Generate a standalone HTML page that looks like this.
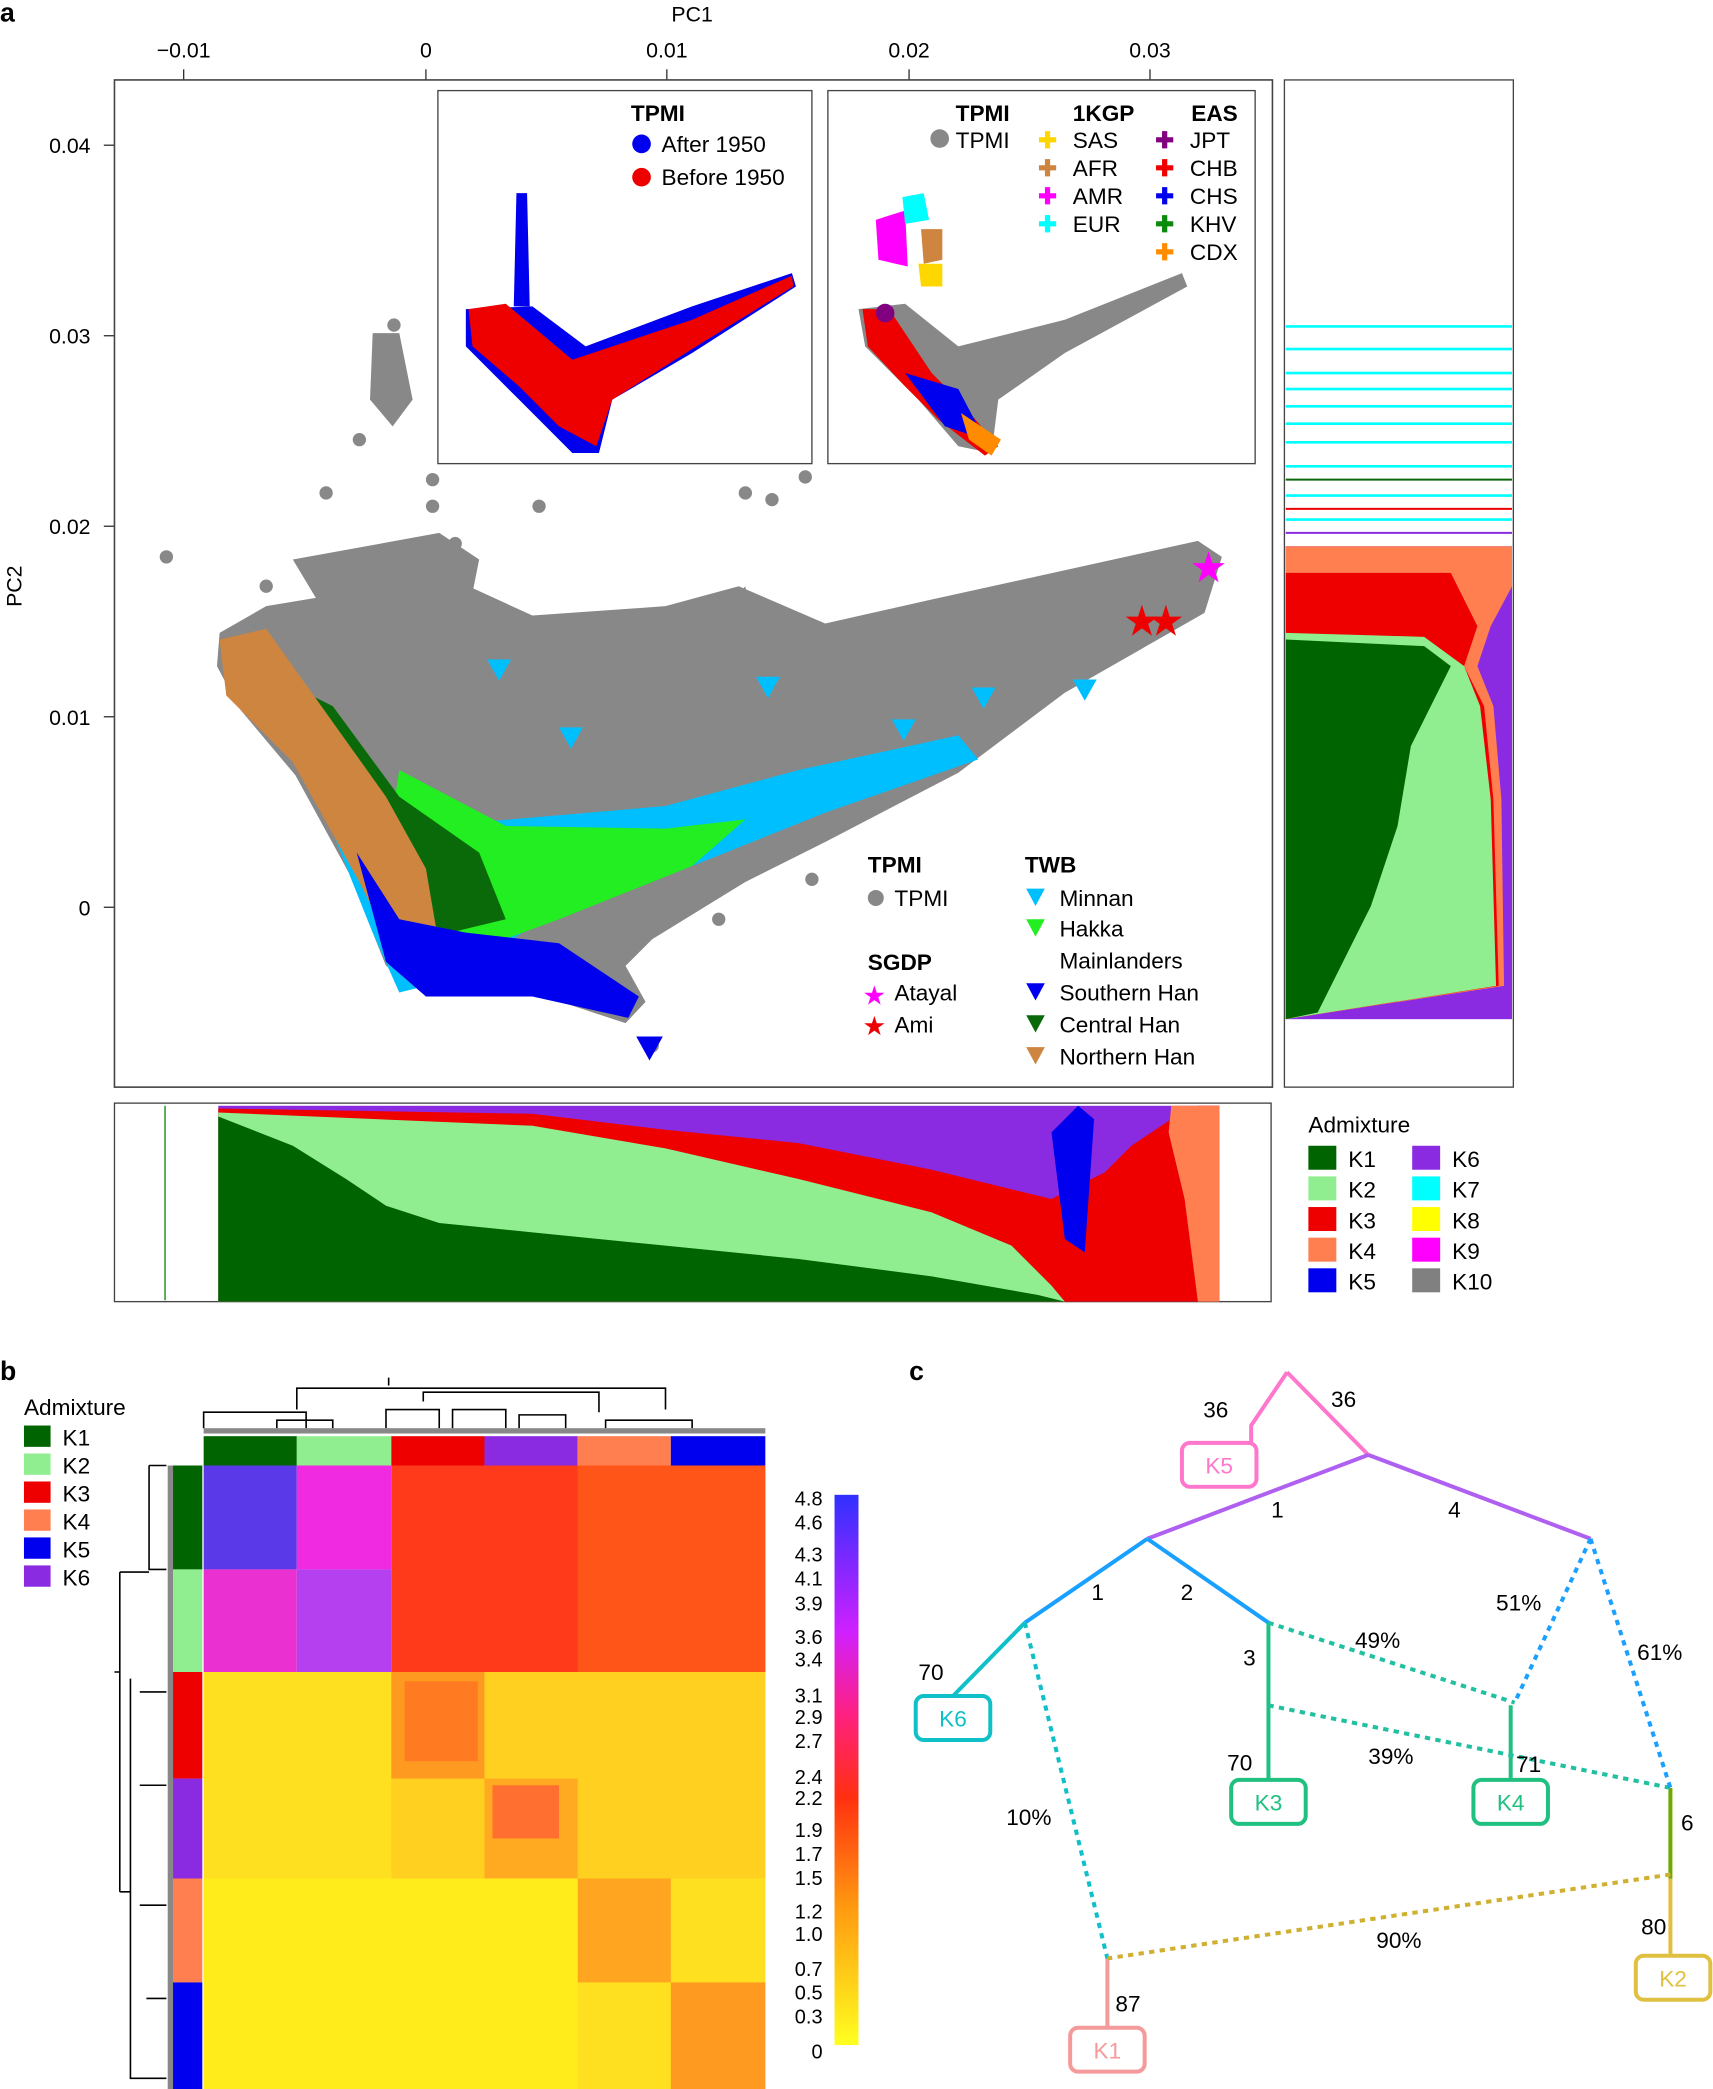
<!DOCTYPE html>
<html><head><meta charset="utf-8"><style>html,body{margin:0;padding:0;background:#fff}svg{display:block}text{font-family:"Liberation Sans",Arial,sans-serif}</style></head><body>
<svg width="1713" height="2089" viewBox="0 0 1287 1568" preserveAspectRatio="none" xmlns="http://www.w3.org/2000/svg">
<!-- Panel a -->
<text x="0" y="16" font-size="20" font-weight="bold">a</text>
<text x="520" y="16" font-size="16" text-anchor="middle">PC1</text>
<g font-size="16" text-anchor="middle">
<text x="138" y="43">−0.01</text><text x="320" y="43">0</text><text x="501" y="43">0.01</text><text x="683" y="43">0.02</text><text x="864" y="43">0.03</text>
</g>
<g stroke="#333"><line x1="138" y1="52" x2="138" y2="60"/><line x1="320" y1="52" x2="320" y2="60"/><line x1="501" y1="52" x2="501" y2="60"/><line x1="683" y1="52" x2="683" y2="60"/><line x1="864" y1="52" x2="864" y2="60"/>
<line x1="78" y1="109" x2="86" y2="109"/><line x1="78" y1="252" x2="86" y2="252"/><line x1="78" y1="395" x2="86" y2="395"/><line x1="78" y1="538" x2="86" y2="538"/><line x1="78" y1="681" x2="86" y2="681"/></g>
<g font-size="16" text-anchor="end"><text x="68" y="115">0.04</text><text x="68" y="258">0.03</text><text x="68" y="401">0.02</text><text x="68" y="544">0.01</text><text x="68" y="687">0</text></g>
<text x="16" y="440" font-size="16" transform="rotate(-90 16 440)" text-anchor="middle">PC2</text>
<rect x="86" y="60" width="870" height="756" fill="none" stroke="#444" stroke-width="1.2"/>
<!-- grey cloud -->
<g fill="#888">
<path d="M165,475 L200,455 L260,445 L330,430 L400,462 L500,455 L555,440 L620,468 L700,450 L800,428 L900,406 L918,418 L905,460 L800,520 L720,580 L620,632 L560,662 L490,705 L470,725 L485,752 L470,768 L400,745 L330,745 L290,725 L262,655 L222,582 L180,532 L163,500 Z"/>
<path d="M280,250 L300,250 L310,300 L295,320 L278,300 Z"/>
<path d="M220,420 L330,400 L360,420 L350,470 L250,470 Z"/>
<path d="M540,460 L560,440 L565,480 Z"/>
<circle cx="125" cy="418" r="5"/><circle cx="245" cy="370" r="5"/><circle cx="270" cy="330" r="5"/><circle cx="325" cy="360" r="5"/><circle cx="325" cy="380" r="5"/><circle cx="405" cy="380" r="5"/><circle cx="560" cy="370" r="5"/><circle cx="580" cy="375" r="5"/><circle cx="605" cy="358" r="5"/><circle cx="296" cy="244" r="5"/><circle cx="342" cy="408" r="5"/><circle cx="200" cy="440" r="5"/><circle cx="610" cy="660" r="5"/><circle cx="540" cy="690" r="5"/><circle cx="490" cy="785" r="5"/>
</g>
<!-- colored regions -->
<path d="M250,620 L350,618 L500,605 L600,578 L720,552 L735,570 L620,610 L520,650 L400,695 L340,735 L300,745 L280,700 L240,600 Z" fill="#00bfff"/>
<path d="M300,578 L380,620 L500,622 L560,615 L520,650 L420,690 L360,712 L330,690 L290,640 Z" fill="#22ee22"/>
<path d="M210,510 L250,530 L300,598 L360,640 L380,690 L330,702 L280,652 L230,590 Z" fill="#0a6a0a"/>
<path d="M165,480 L200,472 L240,528 L290,598 L320,652 L332,722 L300,722 L270,662 L220,572 L170,522 Z" fill="#cd853f"/>
<path d="M268,640 L300,690 L350,700 L420,708 L480,748 L472,764 L400,748 L320,748 L290,722 Z" fill="#0000ee"/>
<g fill="#00bfff"><path d="M366,495 L384,495 L375,511Z"/><path d="M568,508 L586,508 L577,524Z"/><path d="M806,510 L824,510 L815,526Z"/><path d="M420,546 L438,546 L429,562Z"/><path d="M730,516 L748,516 L739,532Z"/><path d="M670,540 L688,540 L679,556Z"/></g>
<path d="M478,778 L498,778 L488,796Z" fill="#0000ee"/>
<g font-size="32" text-anchor="middle"><text x="908" y="437" fill="#ff00ff">★</text><text x="858" y="477" fill="#ee0000">★</text><text x="876" y="477" fill="#ee0000">★</text></g>
<!-- legend in main -->
<g font-size="17"><text x="652" y="655" font-weight="bold">TPMI</text><circle cx="658" cy="674" r="6" fill="#888"/><text x="672" y="680">TPMI</text>
<text x="652" y="728" font-weight="bold">SGDP</text><text x="648" y="754" fill="#ff00ff" font-size="20">★</text><text x="672" y="751">Atayal</text><text x="648" y="777" fill="#ee0000" font-size="20">★</text><text x="672" y="775">Ami</text>
<text x="770" y="655" font-weight="bold">TWB</text>
<path d="M771,667 L785,667 L778,680Z" fill="#00bfff"/><text x="796" y="680">Minnan</text>
<path d="M771,690 L785,690 L778,703Z" fill="#22ee22"/><text x="796" y="703">Hakka</text>
<text x="796" y="727">Mainlanders</text>
<path d="M771,738 L785,738 L778,751Z" fill="#0000ee"/><text x="796" y="751">Southern Han</text>
<path d="M771,762 L785,762 L778,775Z" fill="#0a6a0a"/><text x="796" y="775">Central Han</text>
<path d="M771,786 L785,786 L778,799Z" fill="#cd853f"/><text x="796" y="799">Northern Han</text></g>
<!-- inset 1 -->
<rect x="329" y="68" width="281" height="280" fill="#fff" stroke="#444"/>
<path d="M350,232 L400,230 L440,260 L520,230 L595,205 L598,215 L520,265 L460,300 L450,340 L430,340 L390,300 L350,260 Z" fill="#0000ee"/>
<path d="M388,145 L396,145 L398,230 L386,230 Z" fill="#0000ee"/>
<path d="M352,232 L380,228 L430,270 L520,240 L595,207 L596,215 L520,262 L460,300 L448,335 L420,320 L390,290 L355,260 Z" fill="#ee0000"/>
<g font-size="17"><text x="474" y="91" font-weight="bold">TPMI</text><circle cx="482" cy="108" r="7" fill="#0000ee"/><text x="497" y="114">After 1950</text><circle cx="482" cy="133" r="7" fill="#ee0000"/><text x="497" y="139">Before 1950</text></g>
<!-- inset 2 -->
<rect x="622" y="68" width="321" height="280" fill="#fff" stroke="#444"/>
<path d="M645,232 L680,228 L720,260 L800,240 L888,205 L892,215 L800,265 L750,300 L745,340 L720,335 L690,300 L650,260 Z" fill="#888"/>
<path d="M658,165 L680,158 L682,200 L660,195 Z" fill="#ff00ff"/><path d="M678,148 L694,145 L698,165 L680,168 Z" fill="#00ffff"/><path d="M692,172 L708,172 L708,195 L694,198Z" fill="#cd853f"/><path d="M690,198 L708,198 L708,215 L692,215 Z" fill="#ffd700"/>
<path d="M648,232 L668,232 L700,280 L720,300 L750,335 L740,342 L705,315 L680,290 L652,260 Z" fill="#ee0000"/>
<path d="M680,280 L720,292 L740,330 L710,320 Z" fill="#0000ee"/><path d="M722,310 L752,330 L745,342 L728,330Z" fill="#ff8c00"/><circle cx="665" cy="235" r="7" fill="#800080"/>
<g font-size="17"><text x="718" y="91" font-weight="bold">TPMI</text><circle cx="706" cy="104" r="7" fill="#888"/><text x="718" y="111">TPMI</text>
<text x="806" y="91" font-weight="bold">1KGP</text>
<text x="780" y="111" fill="#ffd700" font-weight="bold">✚</text><text x="806" y="111">SAS</text>
<text x="780" y="132" fill="#cd853f" font-weight="bold">✚</text><text x="806" y="132">AFR</text>
<text x="780" y="153" fill="#ff00ff" font-weight="bold">✚</text><text x="806" y="153">AMR</text>
<text x="780" y="174" fill="#00ffff" font-weight="bold">✚</text><text x="806" y="174">EUR</text>
<text x="895" y="91" font-weight="bold">EAS</text>
<text x="868" y="111" fill="#800080" font-weight="bold">✚</text><text x="894" y="111">JPT</text>
<text x="868" y="132" fill="#ee0000" font-weight="bold">✚</text><text x="894" y="132">CHB</text>
<text x="868" y="153" fill="#0000ee" font-weight="bold">✚</text><text x="894" y="153">CHS</text>
<text x="868" y="174" fill="#0a8a0a" font-weight="bold">✚</text><text x="894" y="174">KHV</text>
<text x="868" y="195" fill="#ff8c00" font-weight="bold">✚</text><text x="894" y="195">CDX</text></g>
<!-- right admixture bar -->
<rect x="965" y="60" width="172" height="756" fill="#fff" stroke="#444"/>
<g stroke="#00ffff" stroke-width="2"><line x1="966" y1="245" x2="1136" y2="245"/><line x1="966" y1="262" x2="1136" y2="262"/><line x1="966" y1="280" x2="1136" y2="280"/><line x1="966" y1="292" x2="1136" y2="292"/><line x1="966" y1="305" x2="1136" y2="305"/><line x1="966" y1="318" x2="1136" y2="318"/><line x1="966" y1="332" x2="1136" y2="332"/><line x1="966" y1="350" x2="1136" y2="350"/><line x1="966" y1="372" x2="1136" y2="372"/><line x1="966" y1="390" x2="1136" y2="390"/></g>
<g stroke-width="1.5"><line x1="966" y1="360" x2="1136" y2="360" stroke="#0a6a0a"/><line x1="966" y1="382" x2="1136" y2="382" stroke="#ee0000"/><line x1="966" y1="400" x2="1136" y2="400" stroke="#8a2be2"/></g>
<rect x="966" y="410" width="170" height="355" fill="#8a2be2"/>
<path d="M966,410 L1136,410 L1136,440 L1120,470 L1110,500 L1122,530 L1128,600 L1130,740 L966,765 Z" fill="#ff7f50"/>
<path d="M966,430 L1090,430 L1110,470 L1100,500 L1115,530 L1122,600 L1126,740 L966,765 Z" fill="#ee0000"/>
<path d="M966,475 L1070,478 L1100,500 L1112,530 L1120,600 L1124,740 L966,765 Z" fill="#90ee90"/>
<path d="M966,480 L1070,485 L1090,500 L1080,520 L1060,560 L1050,620 L1030,680 L1010,720 L990,760 L966,765 Z" fill="#006400"/>
<!-- bottom bar -->
<rect x="86" y="828" width="869" height="149" fill="#fff" stroke="#444"/>
<line x1="124" y1="830" x2="124" y2="976" stroke="#0a8a0a"/>
<rect x="164" y="830" width="752" height="147" fill="#8a2be2"/>
<path d="M164,832 L400,836 L500,848 L600,858 L700,878 L790,900 L830,880 L850,860 L880,840 L900,830 L916,830 L916,977 L164,977 Z" fill="#ee0000"/>
<path d="M880,830 L916,830 L916,977 L900,977 L890,900 L878,850 Z" fill="#ff7f50"/>
<path d="M790,850 L810,830 L822,840 L815,940 L800,930 Z" fill="#0000ee"/>
<path d="M164,835 L400,845 L500,862 L600,885 L700,910 L760,935 L790,965 L800,977 L164,977 Z" fill="#90ee90"/>
<path d="M164,838 L220,860 L260,885 L290,905 L330,918 L400,925 L500,935 L600,945 L700,958 L780,972 L800,977 L164,977 Z" fill="#006400"/>
<!-- legend admixture -->
<g font-size="17"><text x="983" y="850">Admixture</text>
<rect x="983" y="860" width="21" height="18" fill="#006400"/><text x="1013" y="876">K1</text>
<rect x="983" y="883" width="21" height="18" fill="#90ee90"/><text x="1013" y="899">K2</text>
<rect x="983" y="906" width="21" height="18" fill="#ee0000"/><text x="1013" y="922">K3</text>
<rect x="983" y="929" width="21" height="18" fill="#ff7f50"/><text x="1013" y="945">K4</text>
<rect x="983" y="952" width="21" height="18" fill="#0000ee"/><text x="1013" y="968">K5</text>
<rect x="1061" y="860" width="21" height="18" fill="#8a2be2"/><text x="1091" y="876">K6</text>
<rect x="1061" y="883" width="21" height="18" fill="#00ffff"/><text x="1091" y="899">K7</text>
<rect x="1061" y="906" width="21" height="18" fill="#ffff00"/><text x="1091" y="922">K8</text>
<rect x="1061" y="929" width="21" height="18" fill="#ff00ff"/><text x="1091" y="945">K9</text>
<rect x="1061" y="952" width="21" height="18" fill="#808080"/><text x="1091" y="968">K10</text></g>
<!-- Panel b -->
<text x="0" y="1036" font-size="20" font-weight="bold">b</text>
<g font-size="17"><text x="18" y="1062">Admixture</text>
<rect x="18" y="1070" width="20" height="16" fill="#006400"/><text x="47" y="1085">K1</text>
<rect x="18" y="1091" width="20" height="16" fill="#90ee90"/><text x="47" y="1106">K2</text>
<rect x="18" y="1112" width="20" height="16" fill="#ee0000"/><text x="47" y="1127">K3</text>
<rect x="18" y="1133" width="20" height="16" fill="#ff7f50"/><text x="47" y="1148">K4</text>
<rect x="18" y="1154" width="20" height="16" fill="#0000ee"/><text x="47" y="1169">K5</text>
<rect x="18" y="1175" width="20" height="16" fill="#8a2be2"/><text x="47" y="1190">K6</text></g>
<!-- dendrogram top -->
<g stroke="#000" fill="none" stroke-width="1.2"><path d="M292,1034 L292,1040 M223,1058 L223,1042 L500,1042 L500,1058 M318,1052 L318,1045 L450,1045 L450,1060 M153,1072 L153,1060 L230,1060 L230,1072 M208,1072 L208,1066 L250,1066 L250,1072 M290,1072 L290,1058 L330,1058 L330,1072 M340,1072 L340,1058 L380,1058 L380,1072 M390,1072 L390,1062 L425,1062 L425,1072 M455,1072 L455,1066 L520,1066 L520,1072"/></g>
<rect x="153" y="1072" width="422" height="4" fill="#888"/>
<rect x="153" y="1078" width="70" height="22" fill="#006400"/><rect x="223" y="1078" width="71" height="22" fill="#90ee90"/><rect x="294" y="1078" width="70" height="22" fill="#ee0000"/><rect x="364" y="1078" width="70" height="22" fill="#8a2be2"/><rect x="434" y="1078" width="70" height="22" fill="#ff7f50"/><rect x="504" y="1078" width="71" height="22" fill="#0000ee"/>
<!-- row colors -->
<rect x="126" y="1100" width="4" height="468" fill="#888"/>
<rect x="130" y="1100" width="22" height="78" fill="#006400"/><rect x="130" y="1178" width="22" height="77" fill="#90ee90"/><rect x="130" y="1255" width="22" height="80" fill="#ee0000"/><rect x="130" y="1335" width="22" height="75" fill="#8a2be2"/><rect x="130" y="1410" width="22" height="78" fill="#ff7f50"/><rect x="130" y="1488" width="22" height="80" fill="#0000ee"/>
<g stroke="#000" fill="none" stroke-width="1.2"><path d="M86,1255 L90,1255 M90,1180 L90,1420 M90,1180 L112,1180 M90,1420 L98,1420 M112,1100 L112,1178 L125,1178 M112,1100 L125,1100 M98,1260 L98,1560 L125,1560 M105,1270 L125,1270 M105,1340 L125,1340 M105,1430 L125,1430 M110,1500 L125,1500"/></g>
<!-- heatmap -->
<rect x="153" y="1100" width="70" height="78" fill="#5a3ae8"/><rect x="223" y="1100" width="71" height="78" fill="#f02ae0"/>
<rect x="153" y="1178" width="70" height="77" fill="#ea30d0"/><rect x="223" y="1178" width="71" height="77" fill="#b440f0"/>
<rect x="294" y="1100" width="281" height="155" fill="#ff3a1a"/><rect x="434" y="1100" width="141" height="155" fill="#ff5518"/>
<rect x="153" y="1255" width="422" height="313" fill="#ffe020"/>
<rect x="294" y="1255" width="281" height="155" fill="#ffd020"/>
<rect x="294" y="1255" width="70" height="80" fill="#ff9a20"/><rect x="364" y="1335" width="70" height="75" fill="#ffaa20"/>
<rect x="304" y="1262" width="55" height="60" fill="#ff7a20"/><rect x="370" y="1340" width="50" height="40" fill="#ff7030"/>
<rect x="434" y="1410" width="70" height="78" fill="#ffa520"/><rect x="504" y="1488" width="71" height="80" fill="#ff9a20"/>
<rect x="153" y="1410" width="281" height="158" fill="#ffec1a"/>
<!-- colorbar -->
<defs><linearGradient id="cb" x1="0" y1="0" x2="0" y2="1"><stop offset="0" stop-color="#3030ff"/><stop offset="0.25" stop-color="#d020ff"/><stop offset="0.4" stop-color="#ff2080"/><stop offset="0.55" stop-color="#ff3010"/><stop offset="0.75" stop-color="#ff9a10"/><stop offset="1" stop-color="#ffff20"/></linearGradient></defs>
<rect x="627" y="1122" width="18" height="413" fill="url(#cb)"/>
<g font-size="15" text-anchor="end"><text x="618" y="1130">4.8</text><text x="618" y="1148">4.6</text><text x="618" y="1172">4.3</text><text x="618" y="1190">4.1</text><text x="618" y="1209">3.9</text><text x="618" y="1234">3.6</text><text x="618" y="1251">3.4</text><text x="618" y="1278">3.1</text><text x="618" y="1294">2.9</text><text x="618" y="1312">2.7</text><text x="618" y="1339">2.4</text><text x="618" y="1355">2.2</text><text x="618" y="1379">1.9</text><text x="618" y="1397">1.7</text><text x="618" y="1415">1.5</text><text x="618" y="1440">1.2</text><text x="618" y="1457">1.0</text><text x="618" y="1483">0.7</text><text x="618" y="1501">0.5</text><text x="618" y="1519">0.3</text><text x="618" y="1545">0</text></g>
<!-- Panel c -->
<text x="683" y="1036" font-size="20" font-weight="bold">c</text>
<g fill="none" stroke-width="3">
<path d="M967,1030 L940,1070 L940,1083 M967,1030 L1028,1092" stroke="#ff77cc"/>
<path d="M1028,1092 L862,1155 M1028,1092 L1195,1155" stroke="#b060f0"/>
<path d="M862,1155 L770,1218 M862,1155 L953,1218" stroke="#1aa0ff"/>
<path d="M770,1218 L716,1273" stroke="#10c0c8"/>
<path d="M953,1218 L953,1336 M1135,1280 L1135,1336" stroke="#20c080"/>
<path d="M1255,1342 L1255,1410" stroke="#70a800"/>
<path d="M1255,1410 L1255,1468" stroke="#e0c040"/>
<path d="M832,1470 L832,1522" stroke="#f49a9a"/>
</g>
<g fill="none" stroke-width="3" stroke-dasharray="4,4">
<path d="M770,1218 L832,1470" stroke="#10c0c8"/>
<path d="M953,1218 L1138,1278 M953,1280 L1255,1342" stroke="#20c0a0"/>
<path d="M1195,1155 L1138,1278 M1195,1155 L1255,1342" stroke="#1aa0ff"/>
<path d="M1255,1407 L832,1470" stroke="#d0b030"/>
</g>
<g font-size="17" font-weight="normal">
<rect x="888" y="1083" width="56" height="33" rx="6" fill="#fff" stroke="#ff77cc" stroke-width="3"/><text x="916" y="1106" text-anchor="middle" fill="#ff77cc">K5</text>
<rect x="688" y="1273" width="56" height="33" rx="6" fill="#fff" stroke="#10c0c8" stroke-width="3"/><text x="716" y="1296" text-anchor="middle" fill="#10c0c8">K6</text>
<rect x="925" y="1336" width="56" height="33" rx="6" fill="#fff" stroke="#20c080" stroke-width="3"/><text x="953" y="1359" text-anchor="middle" fill="#20c080">K3</text>
<rect x="1107" y="1336" width="56" height="33" rx="6" fill="#fff" stroke="#20c080" stroke-width="3"/><text x="1135" y="1359" text-anchor="middle" fill="#20c080">K4</text>
<rect x="1229" y="1468" width="56" height="33" rx="6" fill="#fff" stroke="#e0c040" stroke-width="3"/><text x="1257" y="1491" text-anchor="middle" fill="#e0c040">K2</text>
<rect x="804" y="1522" width="56" height="33" rx="6" fill="#fff" stroke="#f49a9a" stroke-width="3"/><text x="832" y="1545" text-anchor="middle" fill="#f49a9a">K1</text>
<text x="904" y="1064">36</text><text x="1000" y="1056">36</text><text x="955" y="1139">1</text><text x="1088" y="1139">4</text><text x="820" y="1201">1</text><text x="887" y="1201">2</text><text x="934" y="1250">3</text><text x="1124" y="1209">51%</text><text x="1018" y="1237">49%</text><text x="1230" y="1246">61%</text><text x="690" y="1261">70</text><text x="922" y="1329">70</text><text x="1028" y="1324">39%</text><text x="1139" y="1330">71</text><text x="756" y="1370">10%</text><text x="1263" y="1374">6</text><text x="1233" y="1452">80</text><text x="1034" y="1462">90%</text><text x="838" y="1510">87</text>
</g>
</svg>
</body></html>
